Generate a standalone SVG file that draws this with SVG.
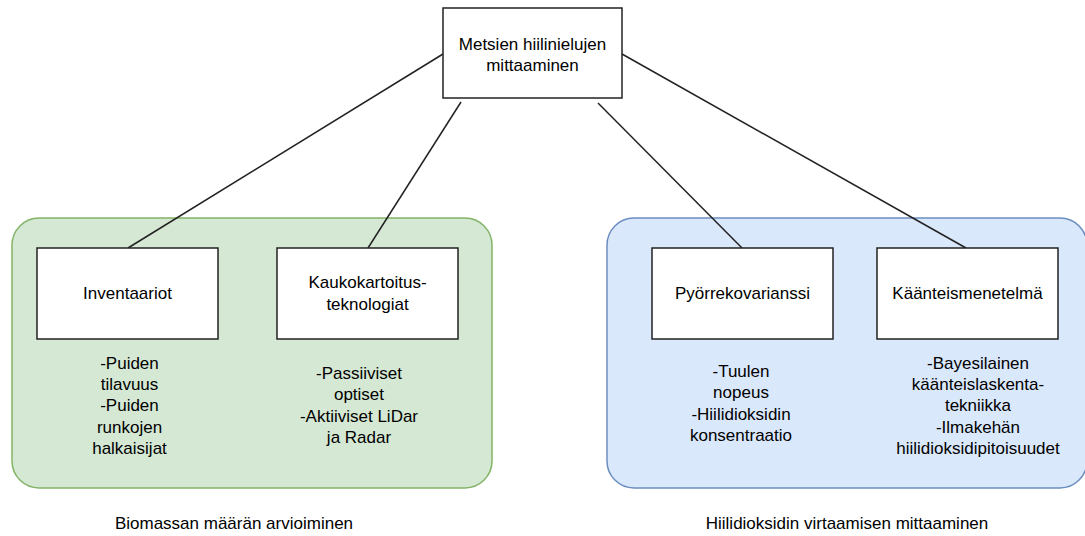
<svg xmlns="http://www.w3.org/2000/svg" width="1085" height="536" viewBox="0 0 1085 536">
<style>
text{font-family:"Liberation Sans",Arial,sans-serif;font-size:17px;fill:#000;text-anchor:middle}
.box{fill:#fff;stroke:#222;stroke-width:1.5}
.edge{stroke:#222;stroke-width:1.5;fill:none}
.grpG{fill:#d5e8d4;stroke:#82b366;stroke-width:1.5}
.grpB{fill:#dae8fc;stroke:#6c8ebf;stroke-width:1.5}
</style>
<rect width="1085" height="536" fill="#fff"/>
<g id="group-biomassa">
<rect class="grpG" x="12" y="218" width="480" height="270" rx="27"/>
</g>
<g id="group-hiilidioksidi">
<rect class="grpB" x="607" y="218" width="480" height="270" rx="27"/>
</g>
<g id="connectors">
<line class="edge" x1="128" y1="248" x2="443" y2="54"/>
<line class="edge" x1="368" y1="248" x2="461" y2="102"/>
<line class="edge" x1="742" y1="248" x2="598" y2="103"/>
<line class="edge" x1="966" y1="248" x2="622" y2="54"/>
</g>
<g id="root">
<rect class="box" x="443" y="8" width="179" height="90"/>
<text x="532.5" y="50">Metsien hiilinielujen</text>
<text x="532.5" y="71">mittaaminen</text>
</g>
<g id="inventaariot">
<rect class="box" x="37" y="248" width="181" height="91"/>
<text x="127.5" y="299">Inventaariot</text>
</g>
<g id="kaukokartoitus">
<rect class="box" x="277" y="248" width="181" height="91"/>
<text x="367.5" y="288">Kaukokartoitus-</text>
<text x="367.5" y="310">teknologiat</text>
</g>
<g id="pyorrekovarianssi">
<rect class="box" x="652" y="248" width="181" height="91"/>
<text x="742.5" y="299">Pyörrekovarianssi</text>
</g>
<g id="kaanteismenetelma">
<rect class="box" x="877" y="248" width="181" height="91"/>
<text x="967.5" y="299">Käänteismenetelmä</text>
</g>
<g id="inventaariot-details">
<text x="129.5" y="369">-Puiden</text>
<text x="129.5" y="390">tilavuus</text>
<text x="129.5" y="411">-Puiden</text>
<text x="129.5" y="433">runkojen</text>
<text x="129.5" y="454">halkaisijat</text>
</g>
<g id="kaukokartoitus-details">
<text x="359" y="379">-Passiiviset</text>
<text x="359" y="400">optiset</text>
<text x="359" y="422">-Aktiiviset LiDar</text>
<text x="359" y="443">ja Radar</text>
</g>
<g id="pyorrekovarianssi-details">
<text x="741" y="377">-Tuulen</text>
<text x="741" y="398">nopeus</text>
<text x="741" y="420">-Hiilidioksidin</text>
<text x="741" y="441">konsentraatio</text>
</g>
<g id="kaanteismenetelma-details">
<text x="978" y="369">-Bayesilainen</text>
<text x="978" y="390">käänteislaskenta-</text>
<text x="978" y="411">tekniikka</text>
<text x="978" y="433">-Ilmakehän</text>
<text x="978" y="454">hiilidioksidipitoisuudet</text>
</g>
<g id="labels">
<text x="234" y="529">Biomassan määrän arvioiminen</text>
<text x="847" y="529">Hiilidioksidin virtaamisen mittaaminen</text>
</g>
</svg>
